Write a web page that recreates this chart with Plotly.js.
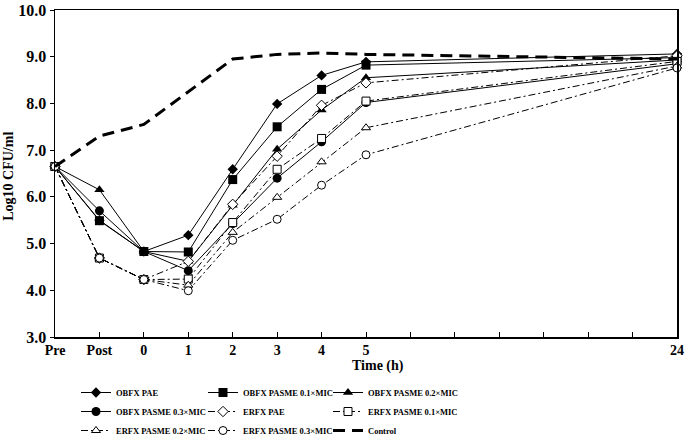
<!DOCTYPE html>
<html>
<head>
<meta charset="utf-8">
<script src="https://cdn.plot.ly/plotly-3.0.1.min.js"></script>
<style>html,body{margin:0;padding:0;background:#fff;}#chart{width:685px;height:437px;}</style>
</head>
<body>
<div id="chart"></div>
<script>
// x positions: category index (Pre, Post, 0..5, blank ticks, 24)
const xIndex = [0, 1, 2, 3, 4, 5, 6, 7, 14];
const tickLabels = ["Pre", "Post", "0", "1", "2", "3", "4", "5", "", "", "", "", "", "", "24"];

const obfxPAE    = [6.65, 5.50, 4.83, 5.18, 6.59, 7.99, 8.60, 8.89, 9.06];
const obfxP01    = [6.65, 5.49, 4.83, 4.82, 6.37, 7.50, 8.30, 8.82, 8.98];
const obfxP02    = [6.65, 6.15, 4.83, 4.62, 5.82, 7.02, 7.86, 8.55, 8.93];
const obfxP03    = [6.65, 5.70, 4.83, 4.42, 5.43, 6.40, 7.18, 8.02, 8.85];
const erfxPAE    = [6.65, 4.69, 4.23, 4.62, 5.84, 6.87, 7.96, 8.44, 9.02];
const erfxP01    = [6.65, 4.69, 4.23, 4.24, 5.45, 6.59, 7.25, 8.05, 8.90];
const erfxP02    = [6.65, 4.69, 4.23, 4.11, 5.24, 5.99, 6.75, 7.48, 8.80];
const erfxP03    = [6.65, 4.69, 4.23, 3.99, 5.07, 5.52, 6.25, 6.90, 8.76];
const control    = [6.65, 7.30, 7.55, 8.25, 8.95, 9.05, 9.08, 9.05, 8.95];

const seriesNames = ["OBFX PAE", "OBFX PASME 0.1×MIC", "OBFX PASME 0.2×MIC",
  "OBFX PASME 0.3×MIC", "ERFX PAE", "ERFX PASME 0.1×MIC",
  "ERFX PASME 0.2×MIC", "ERFX PASME 0.3×MIC", "Control"];

const font = "Liberation Serif, Times New Roman, serif";
const dashDot = "7px,3px,2px,3px";

function tr(name, y, symbol, size, open, dash, legend) {
  return {
    x: xIndex, y: y, name: name, type: "scatter", mode: "lines+markers",
    legend: legend,
    line: {color: "#000", width: 1, dash: dash || "solid"},
    marker: {symbol: symbol, size: size,
      color: open ? "#fff" : "#000",
      line: {color: "#000", width: open ? 1 : 0}},
    cliponaxis: false
  };
}

const data = [
  tr(seriesNames[0], obfxPAE, "diamond", 8, false, null, "legend"),
  tr(seriesNames[1], obfxP01, "square", 9, false, null, "legend2"),
  tr(seriesNames[2], obfxP02, "triangle-up", 9, false, null, "legend3"),
  tr(seriesNames[3], obfxP03, "circle", 9, false, null, "legend"),
  tr(seriesNames[4], erfxPAE, "diamond", 8, true, dashDot, "legend2"),
  tr(seriesNames[5], erfxP01, "square", 8, true, dashDot, "legend3"),
  tr(seriesNames[6], erfxP02, "triangle-up", 8, true, dashDot, "legend"),
  tr(seriesNames[7], erfxP03, "circle", 8, true, dashDot, "legend2"),
  {x: xIndex, y: control, name: seriesNames[8], type: "scatter", mode: "lines",
   legend: "legend3",
   line: {color: "#000", width: 3, dash: "12px,7px"}}
];

function leg(xpx) {
  return {
    orientation: "v", xref: "container", yref: "container",
    x: xpx / 685, y: 0.135, xanchor: "left", yanchor: "top",
    tracegroupgap: 0, itemwidth: 30, bgcolor: "rgba(0,0,0,0)",
    font: {family: font, size: 8.5, weight: "bold"}
  };
}

const layout = {
  width: 685, height: 437,
  margin: {l: 55, r: 8, t: 10, b: 100, autoexpand: false},
  paper_bgcolor: "#fff", plot_bgcolor: "#fff",
  font: {family: font, color: "#000"},
  showlegend: true,
  xaxis: {
    range: [0, 14], tickmode: "array", automargin: false,
    tickvals: tickLabels.map((_, i) => i), ticktext: tickLabels,
    ticks: "inside", ticklen: 5, tickcolor: "#000", tickangle: 0,
    showline: true, linecolor: "#000", linewidth: 1.5, mirror: true,
    showgrid: false, zeroline: false,
    tickfont: {family: font, size: 14, weight: "bold"}
  },
  yaxis: {
    range: [3, 10], dtick: 1, tickformat: ".1f", automargin: false,
    ticks: "outside", ticklen: 4, tickcolor: "#000",
    showline: true, linecolor: "#000", linewidth: 1.5, mirror: true,
    showgrid: false, zeroline: false,
    tickfont: {family: font, size: 16, weight: "bold"}
  },
  annotations: [{
    text: "Time (h)", xref: "paper", yref: "paper",
    x: (378 - 55) / 622, y: -0.09, xanchor: "center", yanchor: "middle",
    showarrow: false, font: {family: font, size: 14, weight: "bold"}
  }, {
    text: "Log10 CFU/ml", xref: "paper", yref: "paper", textangle: -90,
    x: (9 - 55) / 622, y: 0.49, xanchor: "center", yanchor: "middle",
    showarrow: false, font: {family: font, size: 14, weight: "bold"}
  }],
  legend: leg(76),
  legend2: leg(203),
  legend3: leg(328)
};

Plotly.newPlot("chart", data, layout, {displayModeBar: false, staticPlot: true});
</script>
</body>
</html>
